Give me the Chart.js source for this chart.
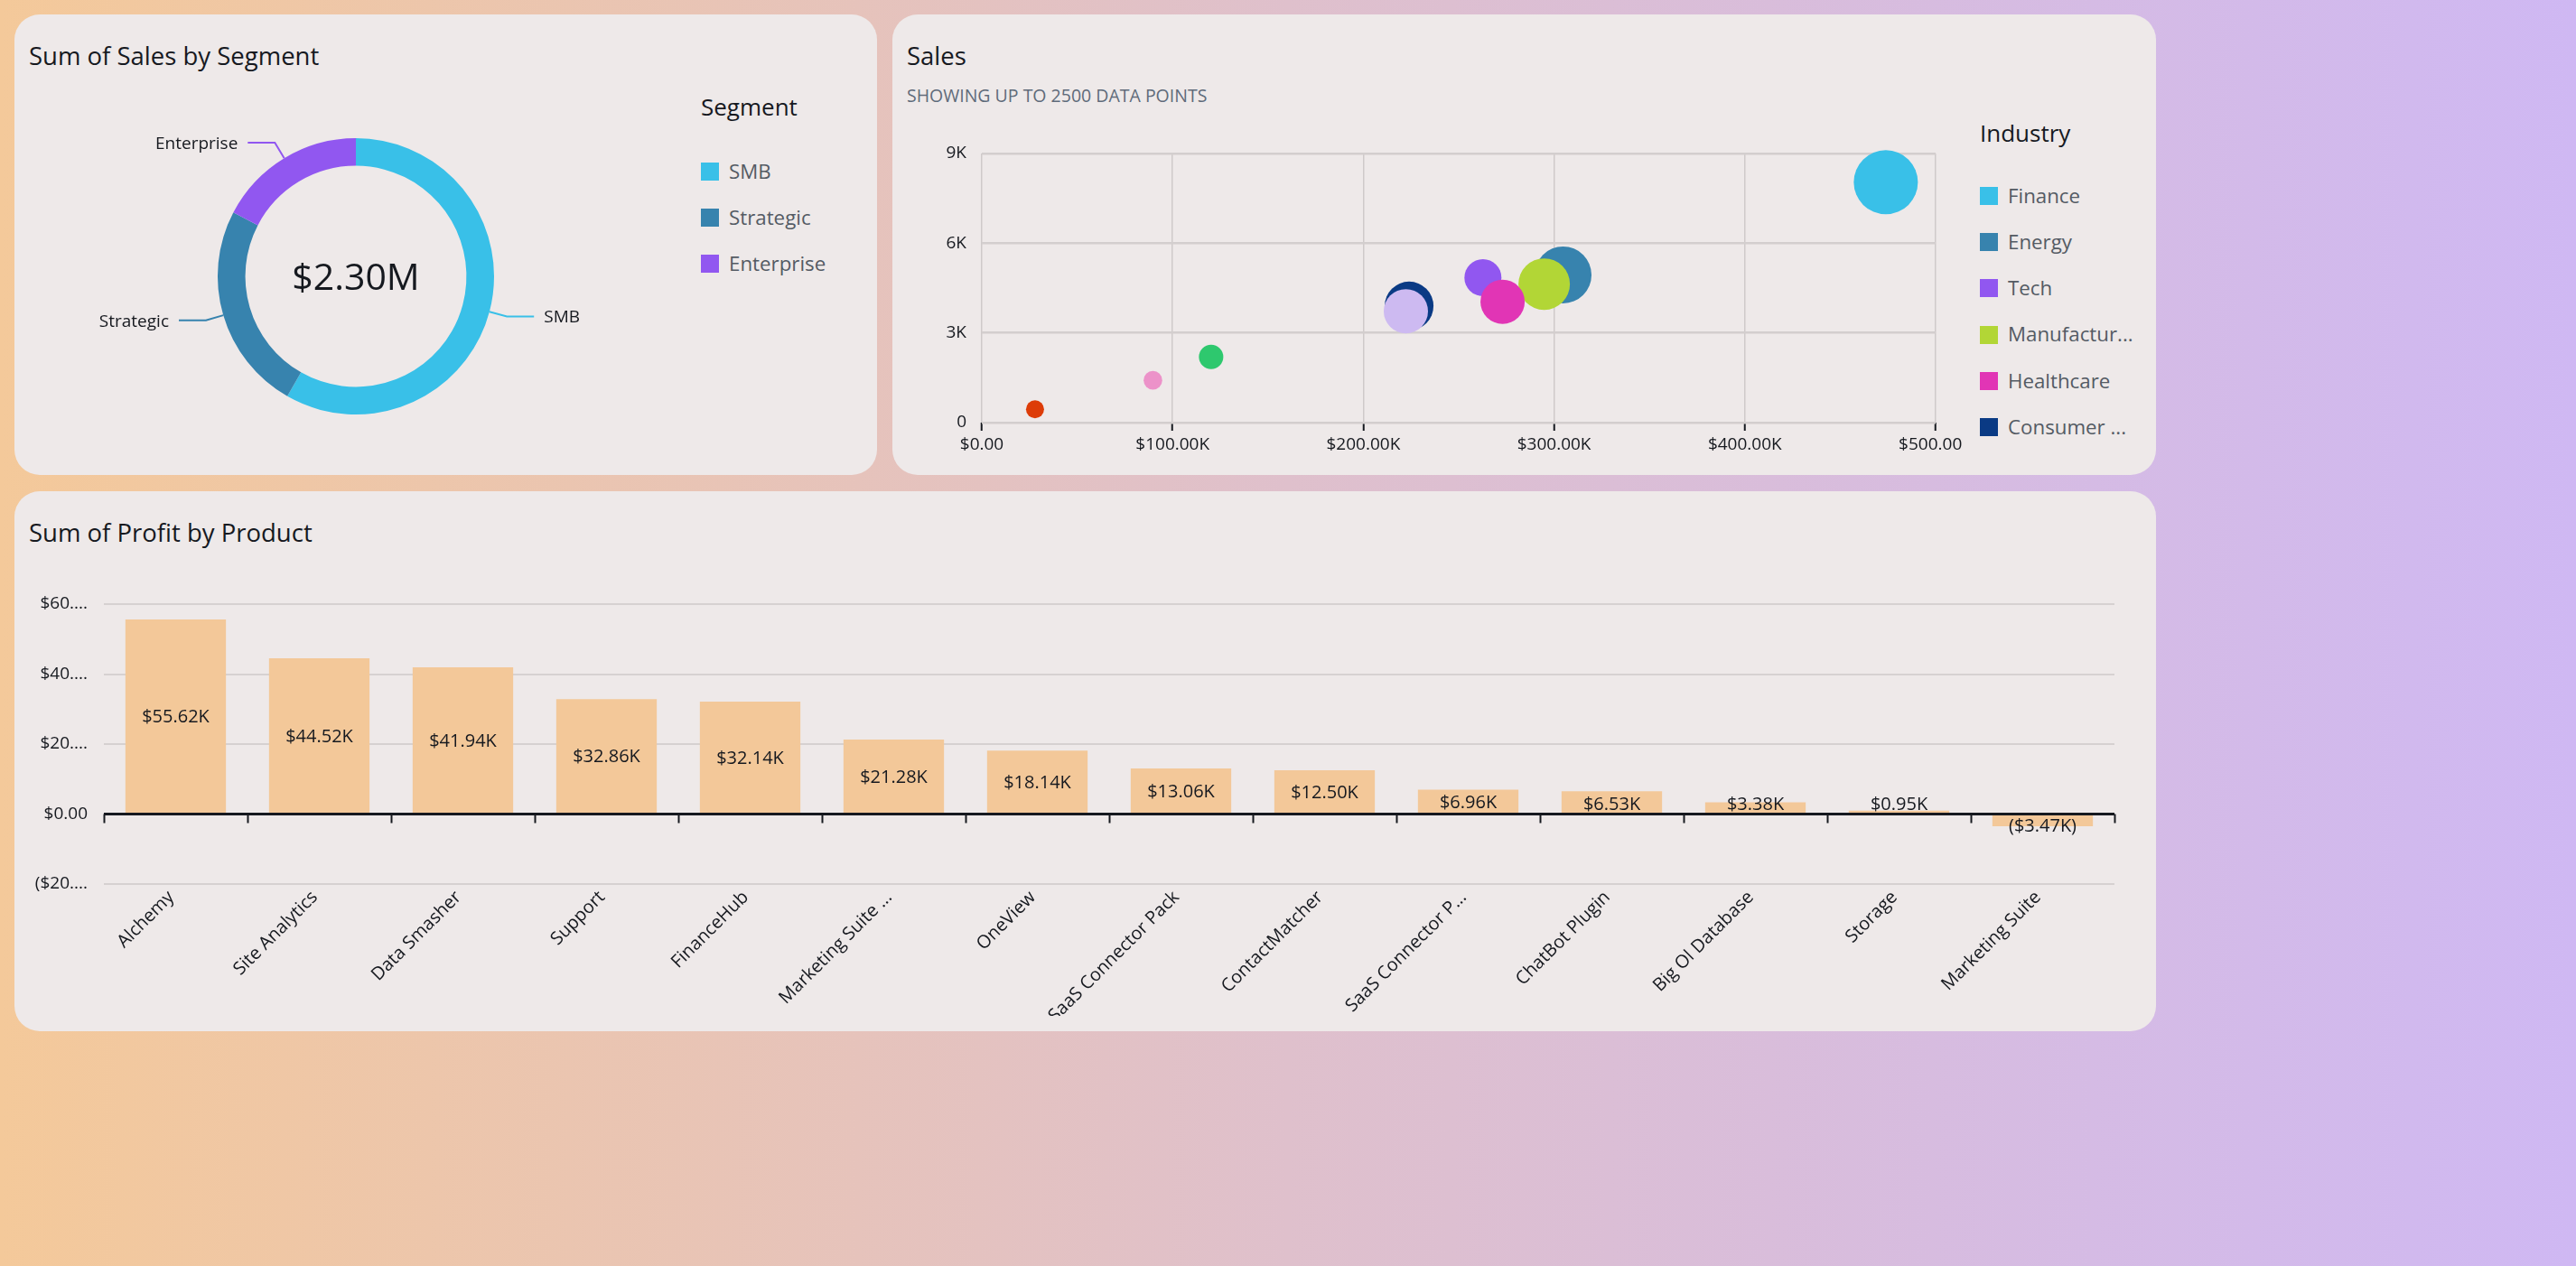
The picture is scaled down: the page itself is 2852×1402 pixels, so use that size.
<!DOCTYPE html>
<html>
<head>
<meta charset="utf-8">
<script src="https://cdn.jsdelivr.net/npm/chart.js@4.4.1/dist/chart.umd.min.js"></script>
<style>
html,body{margin:0;padding:0;}
body{width:2852px;height:1402px;position:relative;overflow:hidden;
  background:linear-gradient(to right,#f4c99a 0%,#dfc0cc 50%,#cfb8f3 100%);
  font-family:'Open Sans',sans-serif;color:#16191f;}
.panel{position:absolute;background:#eee9e9;border-radius:28px;overflow:hidden;}
.title{position:absolute;font-size:27.5px;line-height:1;white-space:nowrap;color:#16191f;}
.sub{position:absolute;font-size:19.5px;line-height:1;white-space:nowrap;color:#5f6b7a;}
.legend{position:absolute;overflow:hidden;}
.lg-title{position:absolute;left:0;top:0;font-size:26px;line-height:1;white-space:nowrap;color:#16191f;}
.lg-item{position:absolute;left:0;height:20px;display:flex;align-items:center;font-size:22.3px;line-height:1;color:#545b64;white-space:nowrap;}
.sw{width:20px;height:20px;margin-right:11px;flex:none;}
canvas{position:absolute;}
</style>
</head>
<body>
<div class="panel" style="left:16px;top:16px;width:955px;height:510px">
  <div class="title" style="left:16px;top:32px">Sum of Sales by Segment</div>
  <canvas id="donut" width="700" height="420" style="left:0;top:84px"></canvas>
  <div class="legend" id="segLegend" style="left:760px;top:89px;width:190px;height:240px"></div>
</div>
<div class="panel" style="left:988px;top:16px;width:1399px;height:510px">
  <div class="title" style="left:16px;top:32px">Sales</div>
  <div class="sub" style="left:16px;top:80px">SHOWING UP TO 2500 DATA POINTS</div>
  <canvas id="bubble" width="1184" height="386" style="left:0;top:124px"></canvas>
  <div class="legend" id="indLegend" style="left:1204px;top:118px;width:180px;height:361px"></div>
</div>
<div class="panel" style="left:16px;top:544px;width:2371px;height:598px">
  <div class="title" style="left:16px;top:32px">Sum of Profit by Product</div>
  <canvas id="bars" width="2371" height="505" style="left:0;top:76px"></canvas>
</div>

<script>
// ---------------- DATA ----------------
const segmentLabels = ['SMB', 'Strategic', 'Enterprise'];
const segmentSales = [1340, 561, 399];           // $K
const segmentTotalText = '$2.30M';

const industryLabels = ['Finance', 'Energy', 'Tech', 'Manufacturing', 'Healthcare', 'Consumer Products', 'Retail', 'Communications', 'Transportation', 'Misc'];
const industryLegendText = ['Finance', 'Energy', 'Tech', 'Manufactur...', 'Healthcare', 'Consumer ...', 'Retail', 'Communications', 'Transportation', 'Misc'];
const industrySales = [473900, 304700, 262700, 294800, 273000, 224000, 222300, 120200, 89700, 27900];
const industryQuantity = [8040, 4940, 4850, 4630, 4040, 3900, 3725, 2195, 1415, 447];
const industryBubble = [35.5, 31.5, 20.5, 28.5, 24.5, 27, 24.5, 13.5, 10.3, 10];
const salesTickText = ['$0.00', '$100.00K', '$200.00K', '$300.00K', '$400.00K', '$500.00K'];
const quantityTickText = ['0', '3K', '6K', '9K'];

const productLabels = ['Alchemy', 'Site Analytics', 'Data Smasher', 'Support', 'FinanceHub', 'Marketing Suite ...', 'OneView', 'SaaS Connector Pack', 'ContactMatcher', 'SaaS Connector P...', 'ChatBot Plugin', 'Big Ol Database', 'Storage', 'Marketing Suite'];
const productProfit = [55.62, 44.52, 41.94, 32.86, 32.14, 21.28, 18.14, 13.06, 12.50, 6.96, 6.53, 3.38, 0.95, -3.47]; // $K
const profitTickValues = [-20, 0, 20, 40, 60];
const profitTickText = ['($20....', '$0.00', '$20....', '$40....', '$60....'];

// ---------------- STYLES ----------------
const segmentColors = ['#39c0e8', '#3783ae', '#9157f0'];
const industryColors = ['#39c0e8', '#3783ae', '#9157f0', '#b2d636', '#e135b5', '#0a3a84', '#cdbaf1', '#2ec86e', '#ec92c9', '#dd3c08'];
const barColor = '#f3c899';
const FONT = "'Open Sans', sans-serif";
const INK = '#16191f';

Chart.defaults.font.family = FONT;
Chart.defaults.color = INK;
Chart.defaults.animation = false;
Chart.defaults.plugins.legend.display = false;
Chart.defaults.plugins.tooltip.enabled = false;

// ---------------- LEGENDS ----------------
function buildLegend(el, title, labels, colors, firstTop, step) {
  const t = document.createElement('div');
  t.className = 'lg-title';
  t.textContent = title;
  el.appendChild(t);
  labels.forEach((lab, i) => {
    const row = document.createElement('div');
    row.className = 'lg-item';
    row.style.top = (firstTop + i * step) + 'px';
    const sw = document.createElement('div');
    sw.className = 'sw';
    sw.style.background = colors[i];
    row.appendChild(sw);
    const tx = document.createElement('span');
    tx.textContent = lab;
    row.appendChild(tx);
    el.appendChild(row);
  });
}
buildLegend(document.getElementById('segLegend'), 'Segment', segmentLabels, segmentColors, 75, 51);
buildLegend(document.getElementById('indLegend'), 'Industry', industryLegendText, industryColors, 73, 51.2);

// ---------------- DONUT ----------------
const donutLabels = {
  id: 'donutLabels',
  afterDraw(chart) {
    const ctx = chart.ctx;
    const meta = chart.getDatasetMeta(0);
    ctx.save();
    meta.data.forEach((arc, i) => {
      const mid = (arc.startAngle + arc.endAngle) / 2;
      const c = Math.cos(mid), s = Math.sin(mid);
      const R = arc.outerRadius;
      const x0 = arc.x + c * R, y0 = arc.y + s * R;
      const x1 = x0 + c * 20, y1 = y0 + s * 20;
      const dir = c >= 0 ? 1 : -1;
      const x2 = x1 + dir * 30;
      ctx.strokeStyle = segmentColors[i];
      ctx.lineWidth = 2;
      ctx.beginPath();
      ctx.moveTo(x0, y0); ctx.lineTo(x1, y1); ctx.lineTo(x2, y1);
      ctx.stroke();
      ctx.fillStyle = INK;
      ctx.font = '19px ' + FONT;
      ctx.textAlign = dir > 0 ? 'left' : 'right';
      ctx.textBaseline = 'alphabetic';
      ctx.fillText(segmentLabels[i], x2 + dir * 11, y1 + 0.357 * 19);
    });
    const a = meta.data[0];
    ctx.font = '41px ' + FONT;
    ctx.textAlign = 'center';
    ctx.fillStyle = INK;
    ctx.fillText(segmentTotalText, a.x, a.y + 0.357 * 41);
    ctx.restore();
  }
};
new Chart(document.getElementById('donut'), {
  type: 'doughnut',
  data: { labels: segmentLabels, datasets: [{ data: segmentSales, backgroundColor: segmentColors, borderWidth: 0 }] },
  options: {
    responsive: false, events: [], cutout: '80%',
    layout: { autoPadding: false, padding: { left: 225, right: 169, top: 53, bottom: 61 } }
  },
  plugins: [donutLabels]
});

// ---------------- BUBBLE ----------------
new Chart(document.getElementById('bubble'), {
  type: 'bubble',
  data: {
    datasets: [{
      data: industrySales.map((x, i) => ({ x: x, y: industryQuantity[i], r: industryBubble[i] })),
      backgroundColor: industryColors, borderWidth: 0, clip: false
    }]
  },
  options: {
    responsive: false, events: [],
    layout: { autoPadding: false, padding: { left: 0, right: 29, top: 30, bottom: 0 } },
    scales: {
      x: {
        type: 'linear', min: 0, max: 500000,
        afterFit: (s) => { s.height = 58; s.paddingLeft = 0; s.paddingRight = 0; },
        ticks: { stepSize: 100000, padding: 4, color: INK, font: { size: 19 },
          callback: (v) => salesTickText[Math.round(v / 100000)] },
        grid: { color: '#cfcaca', lineWidth: 1.5, tickColor: INK, tickLength: 9, tickWidth: 2 },
        border: { display: false }
      },
      y: {
        min: 0, max: 9000,
        afterFit: (s) => { s.width = 99; },
        ticks: { stepSize: 3000, padding: 17, color: INK, font: { size: 19 },
          callback: (v) => quantityTickText[Math.round(v / 3000)] },
        grid: { color: '#d3cece', lineWidth: 2.5, drawTicks: false },
        border: { display: false }
      }
    }
  }
});

// ---------------- BARS ----------------
const barDecor = {
  id: 'barDecor',
  afterDatasetsDraw(chart) {
    const ctx = chart.ctx;
    const xs = chart.scales.x, ys = chart.scales.y;
    const y0 = ys.getPixelForValue(0);
    const area = chart.chartArea;
    ctx.save();
    ctx.strokeStyle = INK;
    ctx.lineWidth = 3;
    ctx.beginPath();
    ctx.moveTo(area.left, y0); ctx.lineTo(area.right, y0);
    ctx.stroke();
    ctx.lineWidth = 2;
    for (let i = 0; i <= productLabels.length; i++) {
      const x = Math.round(xs.getPixelForValue(i - 0.5)) + 0.5;
      ctx.beginPath();
      ctx.moveTo(x, y0); ctx.lineTo(x, y0 + 10);
      ctx.stroke();
    }
    const meta = chart.getDatasetMeta(0);
    ctx.font = '20px ' + FONT;
    ctx.fillStyle = INK;
    ctx.textAlign = 'center';
    ctx.textBaseline = 'alphabetic';
    const h = 22;
    meta.data.forEach((bar, i) => {
      const v = productProfit[i];
      const txt = v >= 0 ? '$' + v.toFixed(2) + 'K' : '($' + (-v).toFixed(2) + 'K)';
      const top = Math.min(bar.y, bar.base), bot = Math.max(bar.y, bar.base);
      let cy;
      if (bot - top >= h + 3) cy = (top + bot) / 2;
      else if (v >= 0) cy = bar.base - h / 2;
      else cy = bar.base + h / 2;
      ctx.fillText(txt, bar.x, cy + 0.357 * 20);
    });
    ctx.restore();
  }
};
new Chart(document.getElementById('bars'), {
  type: 'bar',
  data: { labels: productLabels, datasets: [{ data: productProfit, backgroundColor: barColor, borderWidth: 0, categoryPercentage: 1, barPercentage: 0.70 }] },
  options: {
    responsive: false, events: [],
    layout: { autoPadding: false, padding: { left: 0, right: 46, top: 49, bottom: 0 } },
    scales: {
      x: {
        afterFit: (s) => { s.height = 146; s.paddingLeft = 0; s.paddingRight = 0; },
        ticks: { autoSkip: false, minRotation: 45, maxRotation: 45, padding: 3, labelOffset: -5, color: INK, font: { size: 20 } },
        grid: { display: false, drawTicks: false },
        border: { display: false }
      },
      y: {
        min: -20, max: 60,
        afterFit: (s) => { s.width = 99; },
        ticks: { stepSize: 20, padding: 18, color: INK, font: { size: 19 },
          callback: (v) => profitTickText[profitTickValues.indexOf(v)] },
        grid: { color: (c) => (c.tick && c.tick.value === 0 ? INK : '#d6d1d1'), lineWidth: 2, drawTicks: false },
        border: { display: false }
      }
    }
  },
  plugins: [barDecor]
});
</script>
</body>
</html>
